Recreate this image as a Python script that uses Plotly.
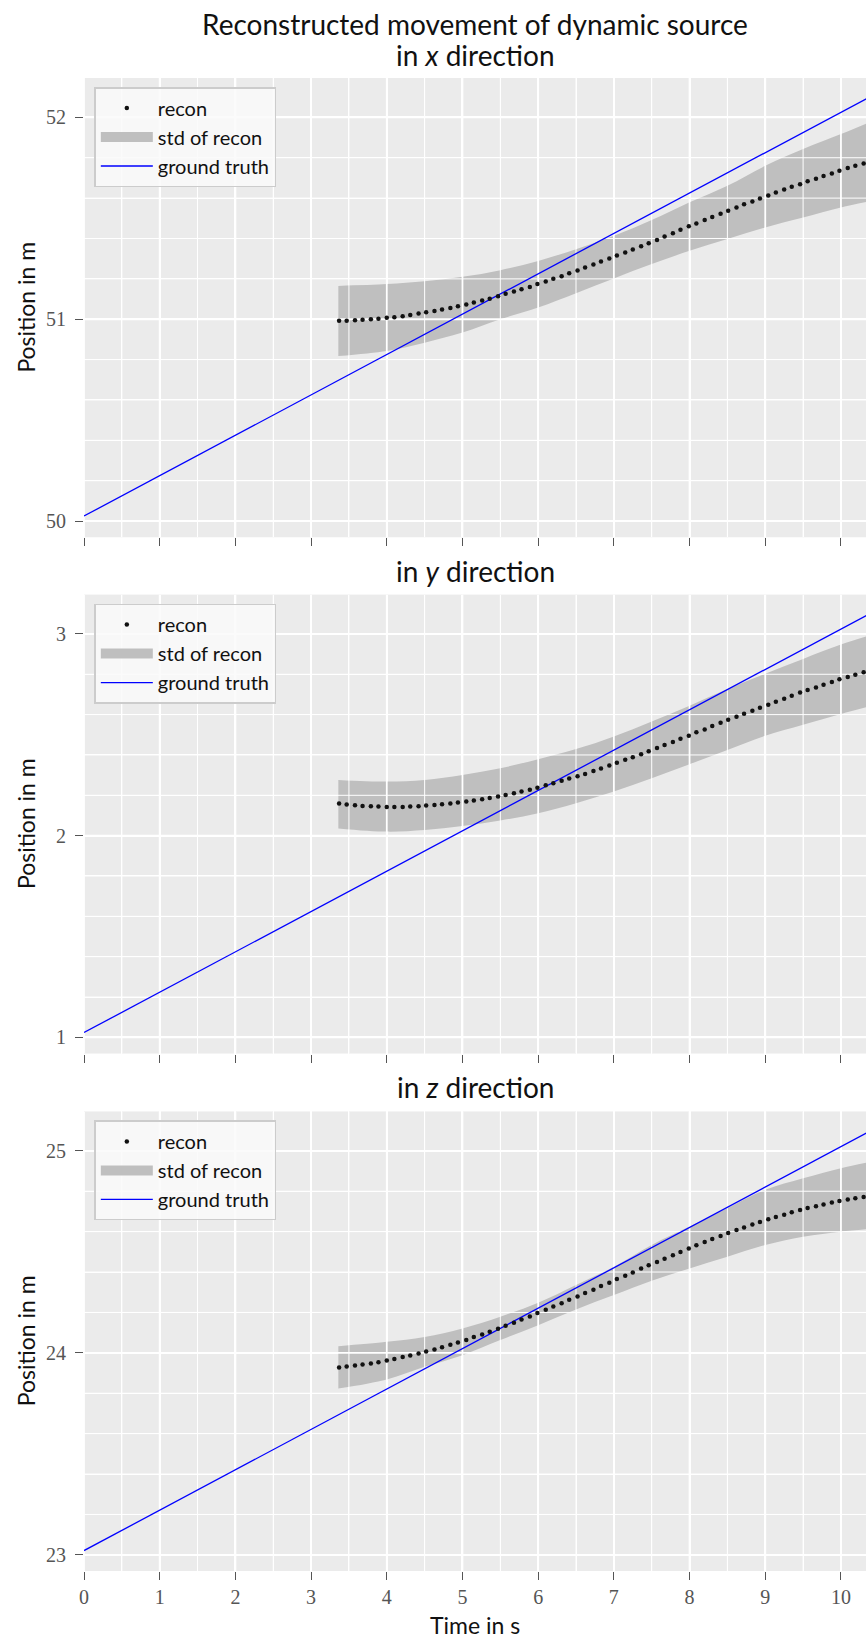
import plotly.graph_objects as go

# ---------------- data ----------------
t_recon = [3.37, 3.47, 3.58, 3.68, 3.79, 3.89, 4.00, 4.10, 4.21, 4.31,
           4.42, 4.52, 4.63, 4.73, 4.84, 4.94, 5.05, 5.15, 5.26, 5.36,
           5.47, 5.57, 5.68, 5.78, 5.89, 5.99, 6.10, 6.20, 6.31, 6.41,
           6.52, 6.62, 6.73, 6.83, 6.94, 7.04, 7.15, 7.25, 7.36, 7.46,
           7.57, 7.67, 7.78, 7.88, 7.99, 8.09, 8.20, 8.30, 8.41, 8.51,
           8.62, 8.72, 8.83, 8.93, 9.04, 9.14, 9.25, 9.35, 9.46, 9.56,
           9.67, 9.77, 9.88, 9.98, 10.09, 10.19, 10.30]

x_recon = [50.992, 50.992, 50.995, 50.997, 51.000, 51.003, 51.007, 51.010, 51.015, 51.021,
           51.028, 51.035, 51.041, 51.048, 51.056, 51.064, 51.073, 51.083, 51.093, 51.102,
           51.114, 51.126, 51.137, 51.149, 51.160, 51.174, 51.187, 51.200, 51.213, 51.228,
           51.241, 51.256, 51.271, 51.286, 51.301, 51.316, 51.331, 51.345, 51.362, 51.377,
           51.393, 51.410, 51.426, 51.443, 51.460, 51.474, 51.491, 51.507, 51.522, 51.537,
           51.554, 51.569, 51.583, 51.598, 51.613, 51.628, 51.643, 51.656, 51.669, 51.683,
           51.696, 51.709, 51.722, 51.736, 51.749, 51.760, 51.772]

y_recon = [2.159, 2.154, 2.151, 2.147, 2.146, 2.144, 2.142, 2.142, 2.142, 2.144,
           2.146, 2.149, 2.152, 2.156, 2.159, 2.164, 2.169, 2.174, 2.180, 2.187,
           2.194, 2.202, 2.210, 2.219, 2.228, 2.238, 2.250, 2.260, 2.272, 2.283,
           2.295, 2.306, 2.320, 2.333, 2.348, 2.361, 2.376, 2.389, 2.404, 2.419,
           2.434, 2.449, 2.464, 2.480, 2.495, 2.512, 2.526, 2.543, 2.560, 2.574,
           2.589, 2.604, 2.619, 2.634, 2.649, 2.664, 2.679, 2.694, 2.709, 2.722,
           2.735, 2.748, 2.762, 2.775, 2.786, 2.798, 2.810]

z_recon = [23.927, 23.932, 23.937, 23.942, 23.947, 23.954, 23.962, 23.970, 23.979, 23.987,
           23.997, 24.007, 24.017, 24.028, 24.040, 24.051, 24.064, 24.078, 24.091, 24.104,
           24.119, 24.134, 24.149, 24.165, 24.180, 24.197, 24.213, 24.230, 24.246, 24.263,
           24.279, 24.296, 24.312, 24.331, 24.347, 24.365, 24.382, 24.398, 24.417, 24.433,
           24.450, 24.466, 24.483, 24.499, 24.517, 24.532, 24.549, 24.564, 24.579, 24.593,
           24.608, 24.621, 24.635, 24.648, 24.661, 24.673, 24.684, 24.696, 24.707, 24.717,
           24.726, 24.734, 24.744, 24.752, 24.759, 24.765, 24.772]

t_band = [3.36, 4.0, 4.5, 5.0, 5.5, 6.0, 6.5, 7.0, 7.5, 8.0, 8.5, 9.0, 9.5, 10.0, 10.34]
x_upper = [51.165, 51.174, 51.188, 51.210, 51.243, 51.289, 51.347, 51.413, 51.491, 51.579,
           51.661, 51.760, 51.843, 51.917, 51.970]
x_lower = [50.818, 50.843, 50.884, 50.934, 51.000, 51.058, 51.129, 51.202, 51.273, 51.339,
           51.397, 51.455, 51.504, 51.554, 51.582]
y_upper = [2.276, 2.268, 2.276, 2.301, 2.334, 2.379, 2.429, 2.492, 2.566, 2.644,
           2.727, 2.803, 2.876, 2.947, 2.988]
y_lower = [2.036, 2.020, 2.028, 2.048, 2.075, 2.111, 2.161, 2.219, 2.285, 2.354,
           2.425, 2.495, 2.550, 2.603, 2.637]
z_upper = [24.033, 24.055, 24.079, 24.121, 24.179, 24.248, 24.336, 24.426, 24.534, 24.625,
           24.716, 24.807, 24.864, 24.914, 24.942]
z_lower = [23.823, 23.868, 23.931, 23.988, 24.063, 24.137, 24.215, 24.286, 24.357, 24.418,
           24.476, 24.534, 24.575, 24.600, 24.612]

t_truth = [0.0, 10.4]
x_truth = [50.025, 52.105]
y_truth = [1.024, 3.104]
z_truth = [23.021, 25.101]

x_ticks = [0, 1, 2, 3, 4, 5, 6, 7, 8, 9, 10]
x_minor = [0.5, 1.5, 2.5, 3.5, 4.5, 5.5, 6.5, 7.5, 8.5, 9.5, 10.5]
y_ticks = [[50, 51, 52], [1, 2, 3], [23, 24, 25]]
minor_steps = [0.2, 0.4, 0.6, 0.8]

main_title = "Reconstructed movement of dynamic source"
panel_titles = ["in <i>x</i> direction", "in <i>y</i> direction", "in <i>z</i> direction"]

# ---------------- styling ----------------
W, H = 866, 1638
ML, MR, MT, MB = 84, 0, 78, 67
PH = H - MT - MB
domains = [[0.6924, 1.0], [0.3466, 0.6540], [0.0, 0.3078]]
x_range = [0, 10.331]
BG = "#EBEBEB"
BAND = "#BFBFBF"
SANS = "Lato"
SERIF = "Liberation Serif"
TICKC = "#555555"
TXT = "#111111"


def ypaper(px):
    return (H - MB - px) / PH


recon = [x_recon, y_recon, z_recon]
uppers = [x_upper, y_upper, z_upper]
lowers = [x_lower, y_lower, z_lower]
truths = [x_truth, y_truth, z_truth]

fig = go.Figure()
annotations = []
for i in range(3):
    n = "" if i == 0 else str(i + 1)
    xa, ya = "x" + n, "y" + n
    lg = "legend" + n
    yt = y_ticks[i]
    y_range = [yt[0] - 0.08, yt[-1] + 0.195]
    y_minor = [p + d for p in yt[:-1] for d in minor_steps]

    # std band
    fig.add_trace(go.Scatter(x=t_band, y=lowers[i], mode="lines", line=dict(width=0, shape="spline"),
                             xaxis=xa, yaxis=ya, showlegend=False, hoverinfo="skip", legend=lg))
    fig.add_trace(go.Scatter(x=t_band, y=uppers[i], mode="lines", line=dict(width=0, shape="spline"),
                             fill="tonexty", fillcolor=BAND, showlegend=False,
                             xaxis=xa, yaxis=ya, legend=lg))
    # legend swatch for the band
    fig.add_trace(go.Scatter(x=[None], y=[None], mode="lines", line=dict(color=BAND, width=16),
                             name="std of recon", xaxis=xa, yaxis=ya, legend=lg, legendrank=2))

    # grid drawn over the band (as in the reference)
    for vals, width in ((x_minor, 1.0), (x_ticks, 1.8)):
        gx, gy = [], []
        for v in vals:
            gx += [v, v, None]
            gy += [y_range[0], y_range[1], None]
        fig.add_trace(go.Scatter(x=gx, y=gy, mode="lines", line=dict(color="white", width=width),
                                 xaxis=xa, yaxis=ya, showlegend=False, hoverinfo="skip"))
    for vals, width in ((y_minor, 1.0), (yt, 1.8)):
        gx, gy = [], []
        for v in vals:
            gx += [x_range[0] - 1, x_range[1] + 1, None]
            gy += [v, v, None]
        fig.add_trace(go.Scatter(x=gx, y=gy, mode="lines", line=dict(color="white", width=width),
                                 xaxis=xa, yaxis=ya, showlegend=False, hoverinfo="skip"))

    fig.add_trace(go.Scatter(x=t_truth, y=truths[i], mode="lines", line=dict(color="#0000FF", width=1.3),
                             name="ground truth", xaxis=xa, yaxis=ya, legend=lg, legendrank=3))
    fig.add_trace(go.Scatter(x=t_recon, y=recon[i], mode="markers",
                             marker=dict(color=TXT, size=4.5), name="recon",
                             xaxis=xa, yaxis=ya, legend=lg, legendrank=1))

    axis_common = dict(ticks="outside", ticklen=8, tickwidth=1.3, tickcolor=TICKC,
                       showgrid=True, gridcolor="white", gridwidth=1.8, zeroline=False,
                       showline=False, tickfont=dict(family=SERIF, size=20, color=TICKC))
    fig.layout["xaxis" + n] = dict(axis_common, domain=[0, 1], anchor=ya, range=x_range,
                                   tickmode="array", tickvals=x_ticks,
                                   showticklabels=(i == 2),
                                   minor=dict(tickvals=x_minor, showgrid=True, gridcolor="white",
                                              gridwidth=1, ticks=""))
    fig.layout["yaxis" + n] = dict(axis_common, domain=domains[i], anchor=xa, range=y_range,
                                   tickmode="array", tickvals=yt, ticklabelstandoff=5,
                                   minor=dict(tickvals=y_minor, showgrid=True, gridcolor="white",
                                              gridwidth=1, ticks=""))

    top_px = H - MB - domains[i][1] * PH
    fig.layout[lg] = dict(x=0.0132, y=ypaper(top_px + 9),
                          xanchor="left", yanchor="top", xref="paper", yref="paper",
                          bgcolor="rgba(250,250,250,0.85)", bordercolor="#CCCCCC", borderwidth=1.5,
                          font=dict(family=SANS, size=20, color=TXT),
                          itemwidth=52, traceorder="normal")

    # panel titles
    if i == 0:
        annotations.append(dict(text=main_title, x=0.5, y=ypaper(24), xref="paper", yref="paper",
                                xanchor="center", yanchor="middle", showarrow=False,
                                font=dict(family=SANS, size=28, color=TXT)))
        sub_px = 55
    else:
        sub_px = top_px - 24
    annotations.append(dict(text=panel_titles[i], x=0.5, y=ypaper(sub_px), xref="paper", yref="paper",
                            xanchor="center", yanchor="middle", showarrow=False,
                            font=dict(family=SANS, size=28, color=TXT)))
    # y label
    annotations.append(dict(text="Position in m", x=(26 - ML) / (W - ML - MR),
                            y=(domains[i][0] + domains[i][1]) / 2, xref="paper", yref="paper",
                            xanchor="center", yanchor="middle", textangle=-90, showarrow=False,
                            font=dict(family=SANS, size=23, color=TXT)))

annotations.append(dict(text="Time in s", x=0.5, y=ypaper(1625),
                        xref="paper", yref="paper", xanchor="center", yanchor="middle",
                        showarrow=False, font=dict(family=SANS, size=23, color=TXT)))

fig.update_layout(width=W, height=H, margin=dict(l=ML, r=MR, t=MT, b=MB),
                  paper_bgcolor="white", plot_bgcolor=BG, annotations=annotations,
                  hovermode=False)

fig.write_html("out.html", config={"displayModeBar": False},
               post_script="document.body.style.margin='0';document.body.style.overflow='hidden';")
